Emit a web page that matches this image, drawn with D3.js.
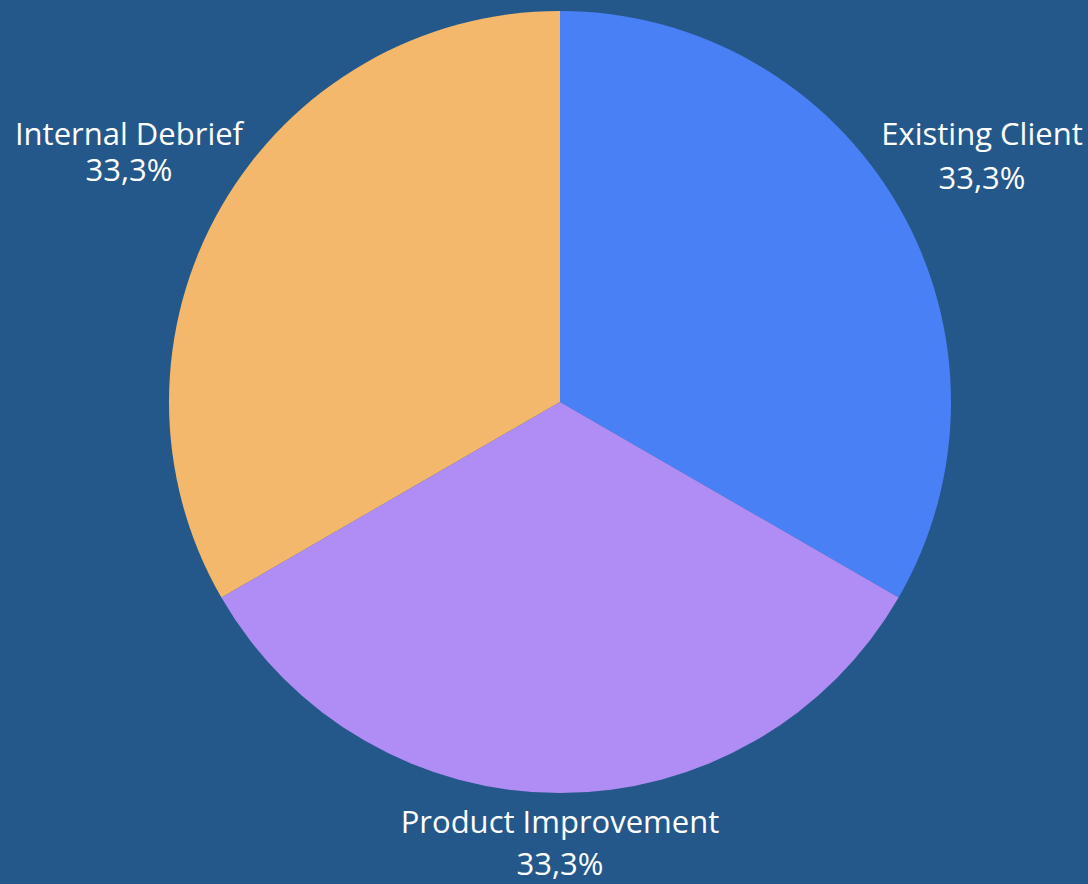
<!DOCTYPE html>
<html><head><meta charset="utf-8">
<script src="https://cdn.jsdelivr.net/npm/d3@7"></script>
<style>html,body{margin:0;padding:0;background:#24588a;}svg{display:block;}</style>
</head><body>
<svg id="chart" width="1088" height="884"></svg>
<script>
const categories = ["Existing Client", "Product Improvement", "Internal Debrief"];
const values = [1, 1, 1];
const percentLabels = ["33,3%", "33,3%", "33,3%"];
const colors = ["#4a80f6", "#b08df5", "#f3b86c"];

const W = 1088, H = 884;
const cx = 560, cy = 402, R = 391;
const svg = d3.select("#chart");
svg.append("rect").attr("width", W).attr("height", H).attr("fill", "#24588a");

const pie = d3.pie().sort(null).startAngle(0).endAngle(2 * Math.PI);
const arcs = pie(values);
const arc = d3.arc().innerRadius(0).outerRadius(R);
const g = svg.append("g").attr("transform", `translate(${cx},${cy})`);
g.selectAll("path").data(arcs).join("path")
  .attr("d", arc)
  .attr("fill", (d, i) => colors[i]);

// label layout: [x, firstBaseline, secondBaseline] per slice
const labelPos = [[982, 145, 189], [560, 833, 875], [129, 145, 181]];
const lg = svg.append("g").attr("font-family", "'Open Sans', sans-serif")
  .attr("font-size", 31).attr("fill", "#ffffff").attr("text-anchor", "middle");
arcs.forEach((d, i) => {
  const [x, y1, y2] = labelPos[i];
  lg.append("text").attr("x", x).attr("y", y1).text(categories[i]);
  lg.append("text").attr("x", x).attr("y", y2).text(percentLabels[i]);
});
</script>
</body></html>
